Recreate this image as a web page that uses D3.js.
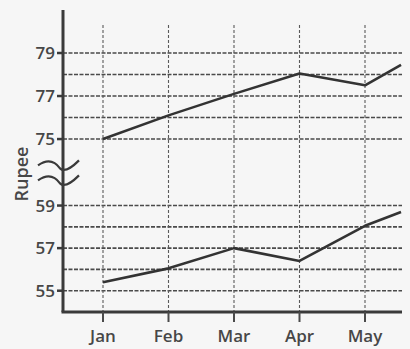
<!DOCTYPE html>
<html>
<head>
<meta charset="utf-8">
<script src="https://cdn.jsdelivr.net/npm/d3@7"></script>
<style>
html,body{margin:0;padding:0;background:#f6f6f6;}
svg{display:block;}
text{font-family:"Open Sans",sans-serif;fill:#474747;}
</style>
</head>
<body>
<svg id="chart" width="410" height="349"></svg>
<script>
const months = ["Jan","Feb","Mar","Apr","May"];
const xIndex = [0, 1, 2, 3, 4, 4.55];
const upperSeries = [75.0, 76.1, 77.1, 78.05, 77.5, 78.45];
const lowerSeries = [55.4, 56.05, 57.0, 56.4, 58.05, 58.7];
const upperGrid = [75, 76, 77, 78, 79];
const lowerGrid = [55, 56, 57, 58, 59];
const tickLabels = [79, 77, 75, 59, 57, 55];
const yLabel = "Rupee";

const svg = d3.select("#chart");
const x = d3.scaleLinear().domain([0, 4]).range([103, 365]);
const y = d3.scaleLinear().domain([54, 59.5, 74.5, 80]).range([312, 194.9, 149.8, 31.5]);
const axisX = 63, rightX = 402;

// horizontal grid
svg.append("g").selectAll("line").data(upperGrid.concat(lowerGrid)).join("line")
  .attr("x1", axisX).attr("x2", rightX)
  .attr("y1", d => y(d)).attr("y2", d => y(d))
  .attr("stroke", "#4a4a4a").attr("stroke-width", 1.6)
  .attr("stroke-dasharray", "4,1.5");

// vertical grid
svg.append("g").selectAll("line").data(months).join("line")
  .attr("x1", (d,i) => x(i)).attr("x2", (d,i) => x(i))
  .attr("y1", 25).attr("y2", y(54))
  .attr("stroke", "#5a5a5a").attr("stroke-width", 1.1)
  .attr("stroke-dasharray", "3,2");

// axes
svg.append("line").attr("x1", axisX).attr("x2", axisX).attr("y1", 10).attr("y2", y(54))
  .attr("stroke", "#3a3a3a").attr("stroke-width", 3);
svg.append("line").attr("x1", axisX - 1.5).attr("x2", rightX).attr("y1", y(54)).attr("y2", y(54))
  .attr("stroke", "#3a3a3a").attr("stroke-width", 3);

// y ticks + labels
const yt = svg.append("g").selectAll("g").data(tickLabels).join("g");
yt.append("line").attr("x1", axisX - 6).attr("x2", axisX)
  .attr("y1", d => y(d)).attr("y2", d => y(d))
  .attr("stroke", "#3a3a3a").attr("stroke-width", 2.5);
yt.append("text").attr("x", axisX - 8).attr("y", d => y(d))
  .attr("dy", "0.36em").attr("text-anchor", "end")
  .attr("font-size", 17).attr("font-weight", 600)
  .text(d => d);

// x ticks + labels
const xt = svg.append("g").selectAll("g").data(months).join("g");
xt.append("line").attr("x1", (d,i) => x(i)).attr("x2", (d,i) => x(i))
  .attr("y1", y(54)).attr("y2", y(54) + 10)
  .attr("stroke", "#4a4a4a").attr("stroke-width", 2);
xt.append("text").attr("x", (d,i) => x(i)).attr("y", 342)
  .attr("text-anchor", "middle").attr("font-size", 17).attr("font-weight", 600)
  .text(d => d);

// y label
svg.append("text").attr("transform", "translate(28,174) rotate(-90)")
  .attr("text-anchor", "middle").attr("font-size", 18).attr("font-weight", 600)
  .text(yLabel);

// axis break tildes
const midY = (y(59.5) + y(74.5)) / 2;
[-8, 7].forEach(off => {
  const cy = midY + off;
  svg.append("path")
    .attr("d", `M${axisX-25},${cy+1} C${axisX-15},${cy-6} ${axisX-8},${cy-3} ${axisX-3},${cy+4} C${axisX+2},${cy+9} ${axisX+10},${cy+2} ${axisX+16},${cy-4}`)
    .attr("fill", "none").attr("stroke", "#3a3a3a").attr("stroke-width", 2.2);
});

// series
const line = d3.line().x(d => x(d[0])).y(d => y(d[1]));
[upperSeries, lowerSeries].forEach(s => {
  svg.append("path").datum(xIndex.map((xi, i) => [xi, s[i]]))
    .attr("d", line).attr("fill", "none")
    .attr("stroke", "#333").attr("stroke-width", 2.6).attr("stroke-linejoin", "round");
});
</script>
</body>
</html>
